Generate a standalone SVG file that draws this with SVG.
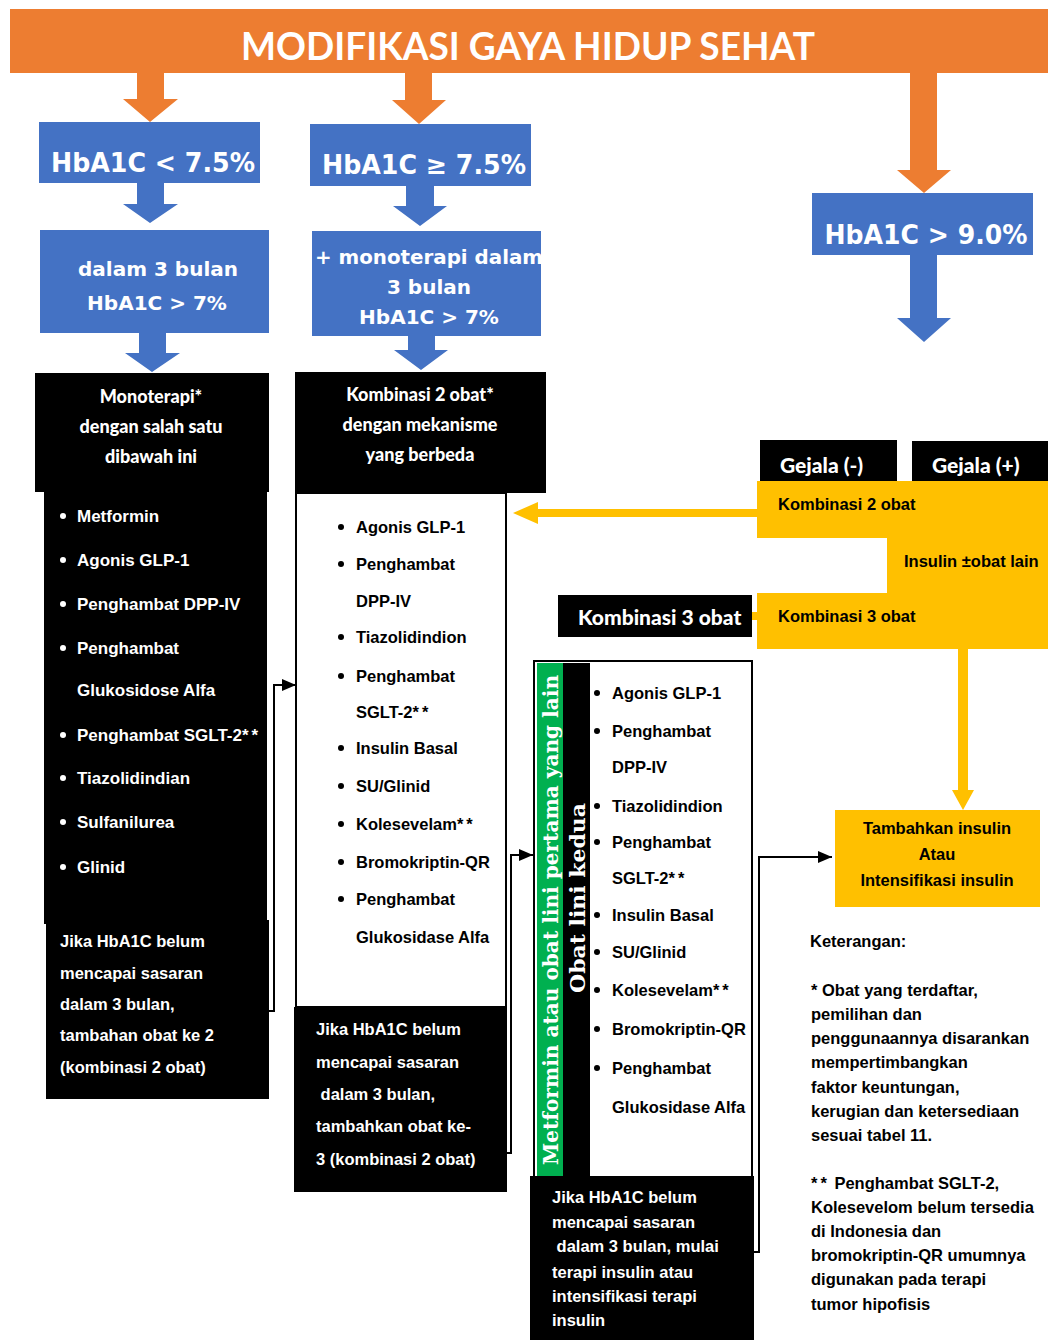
<svg xmlns="http://www.w3.org/2000/svg" width="1048" height="1340" viewBox="0 0 1048 1340">
<style>
.ttl{font-family:Lato,"Liberation Sans",sans-serif;font-weight:bold;font-size:38px;fill:#fff}
.blu{font-family:"DejaVu Sans",sans-serif;font-weight:bold;fill:#fff;text-anchor:middle}
.hdr{font-family:Lato,"Liberation Sans",sans-serif;font-weight:900;font-size:18px;fill:#fff;text-anchor:middle}
.lw{font-family:"Liberation Sans",Arial,sans-serif;font-weight:bold;font-size:17px;fill:#fff}
.lb{font-family:"Liberation Sans",Arial,sans-serif;font-weight:bold;font-size:16.5px;fill:#000}
.nw{font-family:"Liberation Sans",Arial,sans-serif;font-weight:bold;font-size:16.5px;fill:#fff}
.gej{font-family:Lato,"Liberation Sans",sans-serif;font-weight:900;font-size:21px;fill:#fff}
.vt{font-family:"DejaVu Serif",serif;font-weight:bold;font-size:21px;fill:#fff;text-anchor:middle}
.ast{letter-spacing:3px}
.orange{fill:#ED7D31}
.blue{fill:#4472C4}
.yel{fill:#FFC000}
.blk{fill:#000}
.bd{fill:#fff;stroke:#000;stroke-width:2}
.con{fill:none;stroke:#000;stroke-width:2}
</style>
<defs>
<marker id="ah" viewBox="0 0 14 12" refX="14" refY="6" markerWidth="14" markerHeight="12" markerUnits="userSpaceOnUse" orient="auto">
<path d="M0,0 L14,6 L0,12 z" fill="#000"/>
</marker>
</defs>
<rect width="1048" height="1340" fill="#fff"/>

<g id="banner">
<rect class="orange" x="10" y="9" width="1038" height="64"/>
<text class="ttl" x="241" y="60" textLength="574" lengthAdjust="spacingAndGlyphs">MODIFIKASI GAYA HIDUP SEHAT</text>
</g>

<g id="block-arrows">
<polygon class="orange" points="137,73 164,73 164,99 178,99 150,122 123,99 137,99"/>
<polygon class="orange" points="405,73 432,73 432,100 446,100 419,124 392,100 405,100"/>
<polygon class="orange" points="910,73 937,73 937,170 951,170 924,193 897,170 910,170"/>
<polygon class="blue" points="137,183 164,183 164,204 178,204 150,223 123,204 137,204"/>
<polygon class="blue" points="139,333 166,333 166,353 180,353 152,372 125,353 139,353"/>
<polygon class="blue" points="406,186 434,186 434,206 447,206 420,226 393,206 406,206"/>
<polygon class="blue" points="408,336 435,336 435,350 448,350 421,370 394,350 408,350"/>
<polygon class="blue" points="910,255 937,255 937,318 951,318 924,342 897,318 910,318"/>
<polygon class="yel" points="757,509 538,509 538,502 513,513 538,524 538,517 757,517"/>
<polygon class="yel" points="757,612 740,612 740,606 717,616 740,626 740,620 757,620"/>
<polygon class="yel" points="958,649 968,649 968,790 974,790 963,810 952,790 958,790"/>
</g>

<g id="n-hba-lt75">
<rect class="blue" x="39" y="122" width="221" height="61"/>
<text class="blu" x="153" y="172" font-size="26" textLength="204" lengthAdjust="spacingAndGlyphs">HbA1C &lt; 7.5%</text>
</g>
<g id="n-dalam3">
<rect class="blue" x="40" y="230" width="229" height="103"/>
<text class="blu" x="158" y="276" font-size="20">dalam 3 bulan</text>
<text class="blu" x="157" y="310" font-size="20">HbA1C &gt; 7%</text>
</g>
<g id="n-hba-ge75">
<rect class="blue" x="310" y="124" width="221" height="62"/>
<text class="blu" x="424" y="174" font-size="26" textLength="204" lengthAdjust="spacingAndGlyphs">HbA1C ≥ 7.5%</text>
</g>
<g id="n-mono3">
<rect class="blue" x="312" y="231" width="229" height="105"/>
<text class="blu" x="429" y="264" font-size="20" textLength="228" lengthAdjust="spacingAndGlyphs">+ monoterapi dalam</text>
<text class="blu" x="429" y="294" font-size="20">3 bulan</text>
<text class="blu" x="429" y="324" font-size="20">HbA1C &gt; 7%</text>
</g>
<g id="n-hba-gt9">
<rect class="blue" x="812" y="193" width="221" height="62"/>
<text class="blu" x="926" y="244" font-size="26" textLength="203" lengthAdjust="spacingAndGlyphs">HbA1C &gt; 9.0%</text>
</g>

<g id="n-monoterapi">
<rect class="blk" x="35" y="373" width="234" height="119"/>
<text class="hdr" x="151" y="403">Monoterapi*</text>
<text class="hdr" x="151" y="433">dengan salah satu</text>
<text class="hdr" x="151" y="463">dibawah ini</text>
</g>
<g id="n-list1">
<rect class="blk" x="44" y="492" width="223" height="432"/>
<g fill="#fff">
<circle cx="63" cy="516" r="3"/><circle cx="63" cy="560" r="3"/><circle cx="63" cy="604" r="3"/><circle cx="63" cy="648" r="3"/><circle cx="63" cy="735" r="3"/><circle cx="63" cy="778" r="3"/><circle cx="63" cy="822" r="3"/><circle cx="63" cy="867" r="3"/>
</g>
<text class="lw" x="77" y="522">Metformin</text>
<text class="lw" x="77" y="566">Agonis GLP-1</text>
<text class="lw" x="77" y="610">Penghambat DPP-IV</text>
<text class="lw" x="77" y="654">Penghambat</text>
<text class="lw" x="77" y="696">Glukosidose Alfa</text>
<text class="lw" x="77" y="741">Penghambat SGLT-2<tspan class="ast">**</tspan></text>
<text class="lw" x="77" y="784">Tiazolidindian</text>
<text class="lw" x="77" y="828">Sulfanilurea</text>
<text class="lw" x="77" y="873">Glinid</text>
</g>
<g id="n-note1">
<rect class="blk" x="46" y="920" width="223" height="179"/>
<text class="nw" x="60" y="947">Jika HbA1C belum</text>
<text class="nw" x="60" y="979">mencapai sasaran</text>
<text class="nw" x="60" y="1010">dalam 3 bulan,</text>
<text class="nw" x="60" y="1041">tambahan obat ke 2</text>
<text class="nw" x="60" y="1073">(kombinasi 2 obat)</text>
</g>

<g id="n-kombinasi2">
<rect class="blk" x="295" y="372" width="251" height="121"/>
<text class="hdr" x="420" y="401">Kombinasi 2 obat*</text>
<text class="hdr" x="420" y="431">dengan mekanisme</text>
<text class="hdr" x="420" y="461">yang berbeda</text>
</g>
<g id="n-list2">
<rect class="bd" x="296" y="493" width="210" height="514"/>
<g fill="#000">
<circle cx="341" cy="527" r="3"/><circle cx="341" cy="564" r="3"/><circle cx="341" cy="637" r="3"/><circle cx="341" cy="676" r="3"/><circle cx="341" cy="748" r="3"/><circle cx="341" cy="786" r="3"/><circle cx="341" cy="824" r="3"/><circle cx="341" cy="862" r="3"/><circle cx="341" cy="899" r="3"/>
</g>
<text class="lb" x="356" y="533">Agonis GLP-1</text>
<text class="lb" x="356" y="570">Penghambat</text>
<text class="lb" x="356" y="607">DPP-IV</text>
<text class="lb" x="356" y="643">Tiazolidindion</text>
<text class="lb" x="356" y="682">Penghambat</text>
<text class="lb" x="356" y="718">SGLT-2<tspan class="ast">**</tspan></text>
<text class="lb" x="356" y="754">Insulin Basal</text>
<text class="lb" x="356" y="792">SU/Glinid</text>
<text class="lb" x="356" y="830">Kolesevelam<tspan class="ast">**</tspan></text>
<text class="lb" x="356" y="868">Bromokriptin-QR</text>
<text class="lb" x="356" y="905">Penghambat</text>
<text class="lb" x="356" y="943">Glukosidase Alfa</text>
</g>
<g id="n-note2">
<rect class="blk" x="294" y="1007" width="213" height="185"/>
<text class="nw" x="316" y="1035">Jika HbA1C belum</text>
<text class="nw" x="316" y="1068">mencapai sasaran</text>
<text class="nw" x="316" y="1100" xml:space="preserve"> dalam 3 bulan,</text>
<text class="nw" x="316" y="1132">tambahkan obat ke-</text>
<text class="nw" x="316" y="1165">3 (kombinasi 2 obat)</text>
</g>

<g id="n-gejala-neg">
<rect class="blk" x="760" y="440" width="137" height="41"/>
<text class="gej" x="780" y="473">Gejala (-)</text>
</g>
<g id="n-gejala-pos">
<rect class="blk" x="912" y="441" width="136" height="40"/>
<text class="gej" x="932" y="473">Gejala (+)</text>
</g>
<g id="n-y-komb2">
<rect class="yel" x="757" y="481" width="291" height="57"/>
<text class="lb" x="778" y="510">Kombinasi 2 obat</text>
</g>
<g id="n-y-insulin">
<rect class="yel" x="887" y="538" width="161" height="55"/>
<text class="lb" x="904" y="567">Insulin ±obat lain</text>
</g>
<g id="n-y-komb3">
<rect class="yel" x="757" y="593" width="291" height="56"/>
<text class="lb" x="778" y="622">Kombinasi 3 obat</text>
</g>
<g id="n-komb3">
<rect class="blk" x="558" y="595" width="194" height="42"/>
<text class="gej" x="578" y="625" font-size="19">Kombinasi 3 obat</text>
</g>

<g id="n-list3">
<rect class="bd" x="534" y="661" width="218" height="516"/>
<rect fill="#00B050" x="537" y="663" width="26" height="515"/>
<rect class="blk" x="563" y="663" width="27" height="514"/>
<text class="vt" transform="translate(558,920) rotate(-90)" textLength="490" lengthAdjust="spacingAndGlyphs">Metformin atau obat lini pertama yang lain</text>
<text class="vt" transform="translate(585,898) rotate(-90)" textLength="190" lengthAdjust="spacingAndGlyphs">Obat lini kedua</text>
<g fill="#000">
<circle cx="597" cy="693" r="3"/><circle cx="597" cy="731" r="3"/><circle cx="597" cy="806" r="3"/><circle cx="597" cy="842" r="3"/><circle cx="597" cy="915" r="3"/><circle cx="597" cy="952" r="3"/><circle cx="597" cy="990" r="3"/><circle cx="597" cy="1029" r="3"/><circle cx="597" cy="1068" r="3"/>
</g>
<text class="lb" x="612" y="699">Agonis GLP-1</text>
<text class="lb" x="612" y="737">Penghambat</text>
<text class="lb" x="612" y="773">DPP-IV</text>
<text class="lb" x="612" y="812">Tiazolidindion</text>
<text class="lb" x="612" y="848">Penghambat</text>
<text class="lb" x="612" y="884">SGLT-2<tspan class="ast">**</tspan></text>
<text class="lb" x="612" y="921">Insulin Basal</text>
<text class="lb" x="612" y="958">SU/Glinid</text>
<text class="lb" x="612" y="996">Kolesevelam<tspan class="ast">**</tspan></text>
<text class="lb" x="612" y="1035">Bromokriptin-QR</text>
<text class="lb" x="612" y="1074">Penghambat</text>
<text class="lb" x="612" y="1113">Glukosidase Alfa</text>
</g>
<g id="n-note3">
<rect class="blk" x="530" y="1176" width="224" height="164"/>
<text class="nw" x="552" y="1203">Jika HbA1C belum</text>
<text class="nw" x="552" y="1228">mencapai sasaran</text>
<text class="nw" x="552" y="1252" xml:space="preserve"> dalam 3 bulan, mulai</text>
<text class="nw" x="552" y="1278">terapi insulin atau</text>
<text class="nw" x="552" y="1302">intensifikasi terapi</text>
<text class="nw" x="552" y="1326">insulin</text>
</g>

<g id="n-tambahkan">
<rect class="yel" x="835" y="810" width="205" height="97"/>
<text class="lb" x="937" y="834" text-anchor="middle">Tambahkan insulin</text>
<text class="lb" x="937" y="860" text-anchor="middle">Atau</text>
<text class="lb" x="937" y="886" text-anchor="middle">Intensifikasi insulin</text>
</g>

<g id="n-keterangan">
<text class="lb" x="810" y="947">Keterangan:</text>
<text class="lb" x="811" y="996">* Obat yang terdaftar,</text>
<text class="lb" x="811" y="1020">pemilihan dan</text>
<text class="lb" x="811" y="1044">penggunaannya disarankan</text>
<text class="lb" x="811" y="1068">mempertimbangkan</text>
<text class="lb" x="811" y="1093">faktor keuntungan,</text>
<text class="lb" x="811" y="1117">kerugian dan ketersediaan</text>
<text class="lb" x="811" y="1141">sesuai tabel 11.</text>
<text class="lb" x="811" y="1189"><tspan class="ast">**</tspan> Penghambat SGLT-2,</text>
<text class="lb" x="811" y="1213">Kolesevelom belum tersedia</text>
<text class="lb" x="811" y="1237">di Indonesia dan</text>
<text class="lb" x="811" y="1261">bromokriptin-QR umumnya</text>
<text class="lb" x="811" y="1285">digunakan pada terapi</text>
<text class="lb" x="811" y="1310">tumor hipofisis</text>
</g>

<g id="connectors">
<path class="con" d="M269,1011 H274 V685 H296" marker-end="url(#ah)"/>
<path class="con" d="M507,1153 H511 V855 H533" marker-end="url(#ah)"/>
<path class="con" d="M754,1252 H759 V857 H832" marker-end="url(#ah)"/>
</g>
</svg>
